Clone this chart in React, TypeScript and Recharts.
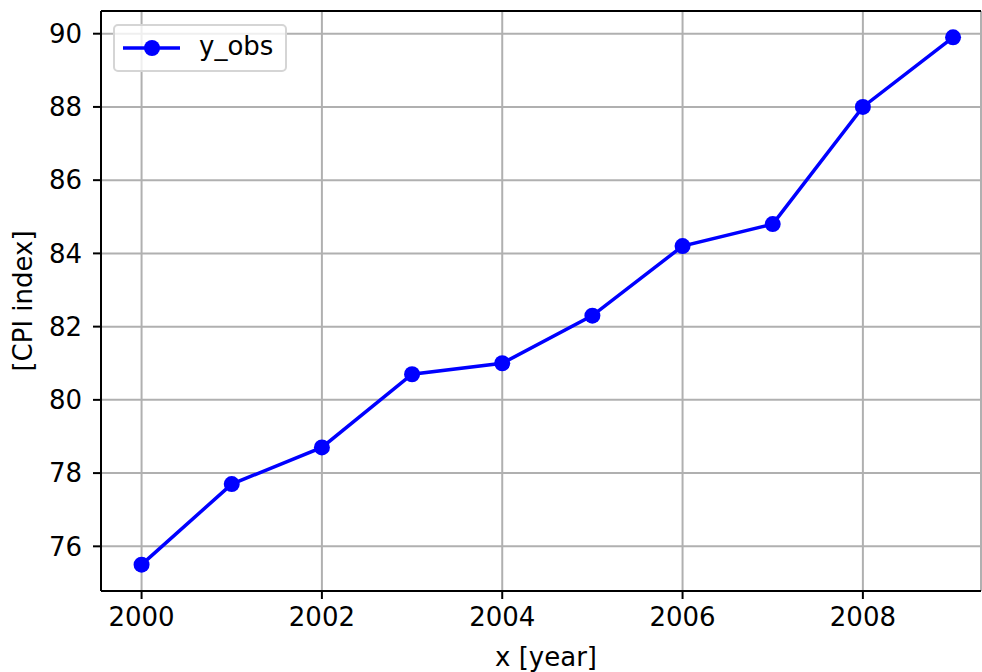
import React from "react";
import {
  LineChart,
  Line,
  XAxis,
  YAxis,
  CartesianGrid,
  ReferenceLine,
} from "recharts";

const YEARS = [2000, 2001, 2002, 2003, 2004, 2005, 2006, 2007, 2008, 2009];
const Y_OBS = [75.5, 77.7, 78.7, 80.7, 81.0, 82.3, 84.2, 84.8, 88.0, 89.9];
const X_TICKS = [2000, 2002, 2004, 2006, 2008];
const Y_TICKS = [76, 78, 80, 82, 84, 86, 88, 90];

const X_DOMAIN: [number, number] = [1999.55, 2009.31];
const Y_DOMAIN: [number, number] = [74.78, 90.62];

const FONT = "'DejaVu Sans', sans-serif";
const FONT_SIZE = 26;
const BLUE = "#0000ff";

const data = YEARS.map((year, i) => ({ year, y_obs: Y_OBS[i] }));

// matplotlib-style legend box
function LegendBox() {
  return (
    <div
      style={{
        position: "absolute",
        left: 113,
        top: 24,
        width: 174,
        height: 48,
        boxSizing: "border-box",
        border: "2px solid #d5d5d5",
        borderRadius: 5,
        background: "rgba(255,255,255,0.8)",
        display: "flex",
        alignItems: "center",
        fontFamily: FONT,
        fontSize: FONT_SIZE,
        color: "#000",
      }}
    >
      <svg width={70} height={40} style={{ marginLeft: 8, flex: "none" }}>
        <line x1={0} y1={20} x2={57} y2={20} stroke={BLUE} strokeWidth={3.5} />
        <circle cx={29} cy={20} r={8} fill={BLUE} />
      </svg>
      <span style={{ marginLeft: 6, marginTop: -4 }}>y_obs</span>
    </div>
  );
}

export default function App() {
  return (
    <div style={{ position: "absolute", left: 0, top: 0, width: 982, height: 672, background: "#fff" }}>
      <LineChart
        width={982}
        height={672}
        data={data}
        margin={{ top: 11, right: 1, left: 0, bottom: 0 }}
      >
        <CartesianGrid stroke="#b0b0b0" strokeWidth={2} />
        <XAxis
          dataKey="year"
          type="number"
          domain={X_DOMAIN}
          ticks={X_TICKS}
          allowDataOverflow
          height={81}
          axisLine={{ stroke: "#000", strokeWidth: 2 }}
          tickLine={{ stroke: "#000", strokeWidth: 2 }}
          tickSize={8}
          tickMargin={9}
          tick={{ fill: "#000", fontSize: FONT_SIZE, fontFamily: FONT }}
        />
        <YAxis
          type="number"
          domain={Y_DOMAIN}
          ticks={Y_TICKS}
          allowDataOverflow
          width={101}
          axisLine={{ stroke: "#000", strokeWidth: 2 }}
          tickLine={{ stroke: "#000", strokeWidth: 2 }}
          tickSize={8}
          tickMargin={11}
          tick={{ fill: "#000", fontSize: FONT_SIZE, fontFamily: FONT }}
        />
        <ReferenceLine y={Y_DOMAIN[1]} stroke="#000" strokeWidth={2} />
        <Line
          type="linear"
          dataKey="y_obs"
          stroke={BLUE}
          strokeWidth={3.5}
          dot={{ r: 8, fill: BLUE, stroke: "none" }}
          activeDot={false}
          isAnimationActive={false}
        />
      </LineChart>
      <LegendBox />
      <div
        style={{
          position: "absolute",
          left: 546,
          top: 657,
          transform: "translate(-50%, -50%)",
          fontFamily: FONT,
          fontSize: FONT_SIZE,
          whiteSpace: "nowrap",
        }}
      >
        x [year]
      </div>
      <div
        style={{
          position: "absolute",
          left: 23,
          top: 301,
          transform: "translate(-50%, -50%) rotate(-90deg)",
          fontFamily: FONT,
          fontSize: FONT_SIZE,
          whiteSpace: "nowrap",
        }}
      >
        [CPI index]
      </div>
    </div>
  );
}
